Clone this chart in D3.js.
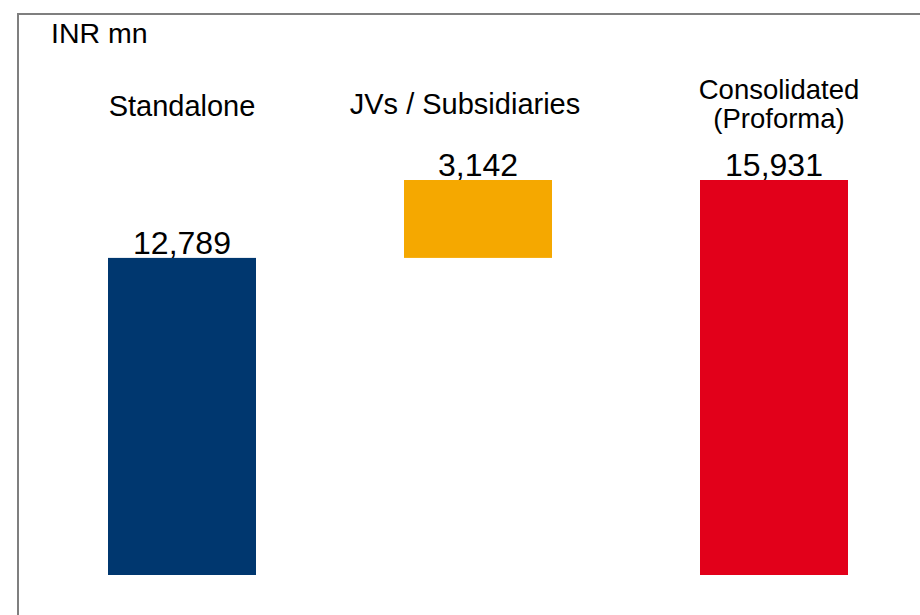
<!DOCTYPE html>
<html>
<head>
<meta charset="utf-8">
<script src="https://cdn.jsdelivr.net/npm/d3@7"></script>
<style>
  html, body { margin: 0; padding: 0; background: #fff; }
  svg { display: block; font-family: "Liberation Sans", Arial, sans-serif; }
</style>
</head>
<body>
<div id="content"></div>
<script>
// chart data
const categories = ["Standalone", "JVs / Subsidiaries", "Consolidated (Proforma)"];
const labelLines = [["Standalone"], ["JVs / Subsidiaries"], ["Consolidated", "(Proforma)"]];
const values = [12789, 3142, 15931];
const barKind = ["total", "step", "total"];
const unitLabel = "INR mn";

const colors = ["#00376f", "#f5a800", "#e2001a"];

const w = 920;
const h = 615;

// where each bar starts (waterfall)
let running = 0;
const bars = values.map(function (v, i) {
  let y0 = 0;
  if (barKind[i] === "step") y0 = running;
  running = barKind[i] === "step" ? running + v : v;
  return { cat: categories[i], lines: labelLines[i], value: v, y0: y0, y1: y0 + v, color: colors[i] };
});

const xScale = d3.scaleBand()
  .domain(categories)
  .range([34, 922])
  .paddingInner(0.5)
  .paddingOuter(0.25);

const yScale = d3.scaleLinear()
  .domain([0, d3.max(bars, d => d.y1)])
  .range([575, 180]);

const svg = d3.select("#content")
  .append("svg")
  .attr("width", w)
  .attr("height", h);

// frame (only top and left edges are inside the picture)
svg.append("rect")
  .attr("x", 18).attr("y", 14)
  .attr("width", 1000).attr("height", 1000)
  .attr("fill", "none")
  .attr("stroke", "#7f7f7f")
  .attr("stroke-width", 2);

svg.append("text")
  .attr("x", 51).attr("y", 43)
  .attr("font-size", 28.5)
  .attr("fill", "#000")
  .text(unitLabel);

svg.selectAll("rect.bar")
  .data(bars)
  .enter()
  .append("rect")
  .attr("class", "bar")
  .attr("x", d => xScale(d.cat))
  .attr("y", d => yScale(d.y1))
  .attr("width", xScale.bandwidth())
  .attr("height", d => yScale(d.y0) - yScale(d.y1))
  .attr("fill", d => d.color);

svg.selectAll("text.value")
  .data(bars)
  .enter()
  .append("text")
  .attr("class", "value")
  .attr("x", d => xScale(d.cat) + xScale.bandwidth() / 2)
  .attr("y", d => yScale(d.y1) - 4)
  .attr("text-anchor", "middle")
  .attr("font-size", 32)
  .attr("fill", "#000")
  .text(d => d3.format(",")(d.value));

// category headers
const catBase = [116, 114, 99];
const catSize = [29, 29, 27.5];
const catShift = [0, -13, 5];
const cat = svg.selectAll("text.cat")
  .data(bars)
  .enter()
  .append("text")
  .attr("class", "cat")
  .attr("text-anchor", "middle")
  .attr("font-size", (d, i) => catSize[i])
  .attr("fill", "#000")
  .attr("transform", (d, i) => "translate(" + (xScale(d.cat) + xScale.bandwidth() / 2 + catShift[i]) + "," + catBase[i] + ")");

cat.selectAll("tspan")
  .data(d => d.lines)
  .enter()
  .append("tspan")
  .attr("x", 0)
  .attr("dy", (d, j) => j === 0 ? 0 : 29)
  .text(d => d);
</script>
</body>
</html>
